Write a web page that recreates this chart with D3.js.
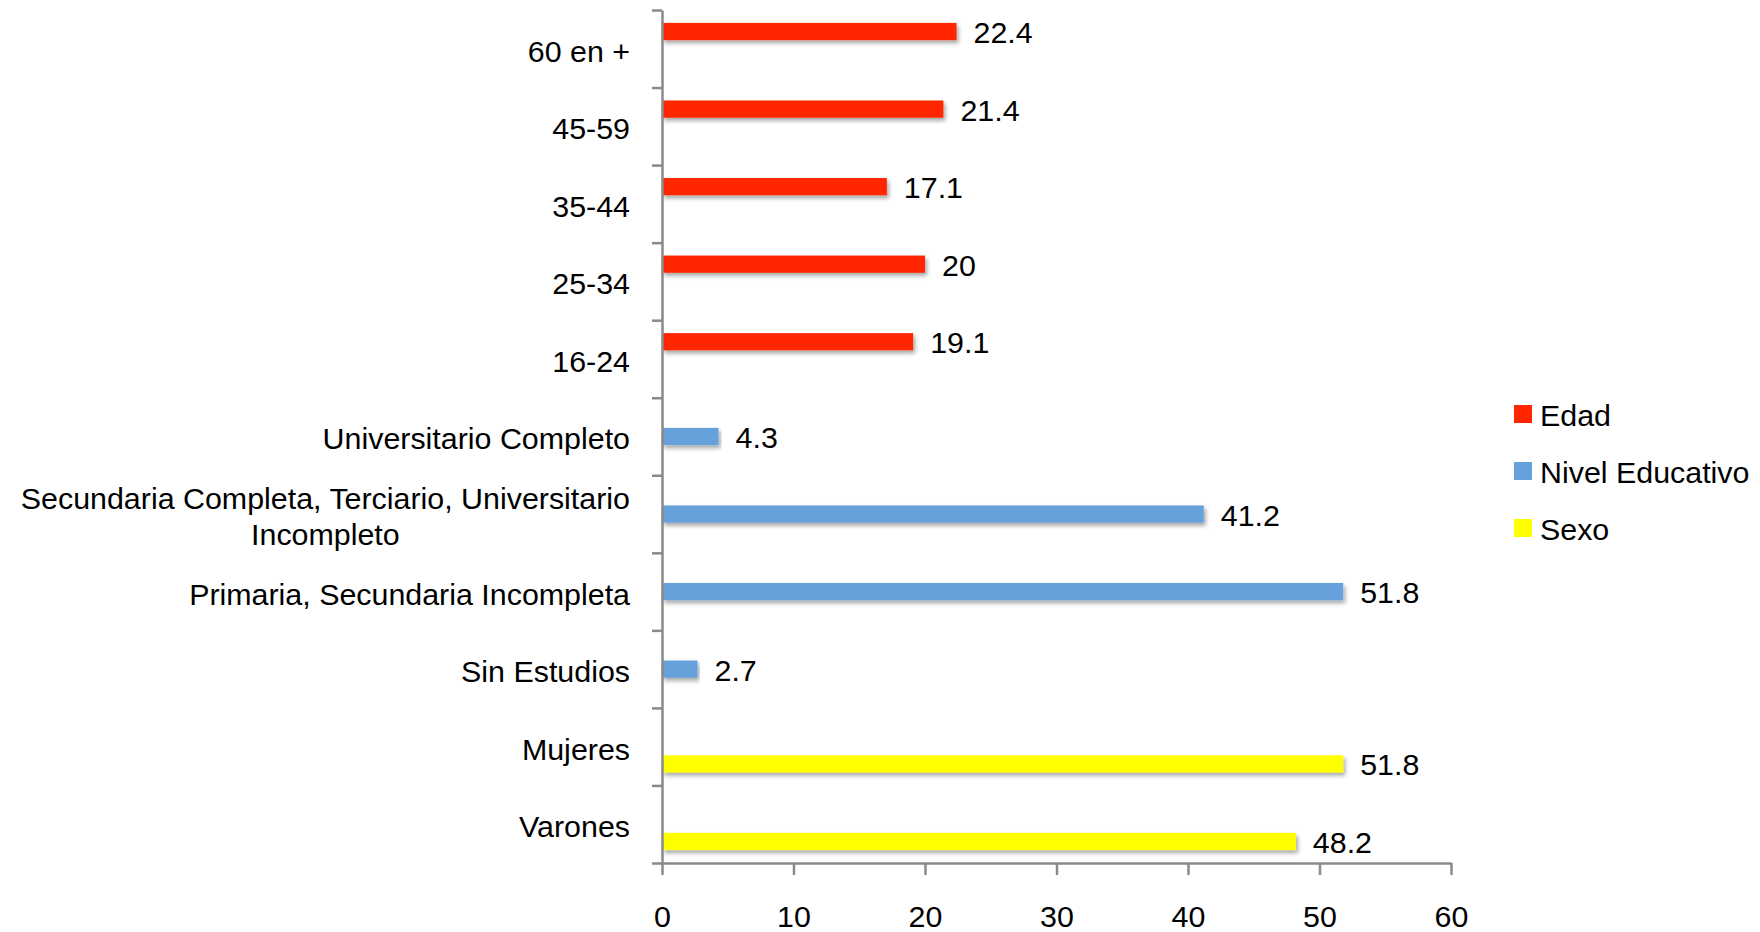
<!DOCTYPE html>
<html>
<head>
<meta charset="utf-8">
<script src="https://cdn.jsdelivr.net/npm/d3@7.9.0/dist/d3.min.js"></script>
<style>
  body { margin: 0; background: #fff; }
  text { font-family: "Liberation Sans", Arial, sans-serif; fill: #000; }
</style>
</head>
<body>
<svg id="chart" width="1760" height="932"></svg>
<script>
// categories, top to bottom
const categories = [
  "60 en +", "45-59", "35-44", "25-34", "16-24",
  "Universitario Completo",
  "Secundaria Completa, Terciario, Universitario Incompleto",
  "Primaria, Secundaria Incompleta",
  "Sin Estudios", "Mujeres", "Varones"
];
const seriesNames = ["Edad", "Nivel Educativo", "Sexo"];
const edad   = [22.4, 21.4, 17.1, 20, 19.1, null, null, null, null, null, null];
const nivel  = [null, null, null, null, null, 4.3, 41.2, 51.8, 2.7, null, null];
const sexo   = [null, null, null, null, null, null, null, null, null, 51.8, 48.2];
const xTicks = [0, 10, 20, 30, 40, 50, 60];
const colors = ["#ff2600", "#66a1dc", "#ffff00"];

// labels that wrap onto two lines
const labelLines = {
  "Secundaria Completa, Terciario, Universitario Incompleto":
    ["Secundaria Completa, Terciario, Universitario", "Incompleto"]
};

const fs = 30.4;
const svg = d3.select("#chart");
const plotLeft = 662, plotRight = 1451, plotTop = 10, plotBottom = 863;
const labelRight = 630;

const x = d3.scaleLinear().domain([0, 60]).range([plotLeft, plotRight]);
const y = d3.scaleBand().domain(categories).range([plotTop, plotBottom]).padding(0);
const ySub = d3.scaleBand().domain(seriesNames)
  .range([0, y.bandwidth()]).paddingInner(0).paddingOuter(0.75);
const color = d3.scaleOrdinal().domain(seriesNames).range(colors);

const rows = [];
[edad, nivel, sexo].forEach((vals, si) => {
  vals.forEach((v, i) => {
    if (v != null) rows.push({ cat: categories[i], series: seriesNames[si], value: v });
  });
});

// shadow under bars
const defs = svg.append("defs");
defs.append("filter").attr("id", "shadow")
  .attr("x", "-5%").attr("y", "-50%").attr("width", "110%").attr("height", "220%")
  .append("feDropShadow")
  .attr("dx", 2).attr("dy", 3).attr("stdDeviation", 2)
  .attr("flood-color", "#000").attr("flood-opacity", 0.35);

// bars
svg.append("g").selectAll("rect")
  .data(rows)
  .enter().append("rect")
  .attr("x", x(0))
  .attr("y", d => y(d.cat) + ySub(d.series))
  .attr("width", d => x(d.value) - x(0))
  .attr("height", ySub.bandwidth())
  .attr("fill", d => color(d.series))
  .attr("filter", "url(#shadow)");

// value labels
svg.append("g").selectAll("text")
  .data(rows)
  .enter().append("text")
  .attr("x", d => x(d.value) + 17)
  .attr("y", d => y(d.cat) + ySub(d.series) + ySub.bandwidth() / 2)
  .attr("dy", "0.38em")
  .attr("font-size", fs)
  .text(d => d.value);

// left axis: ticks at the category boundaries
const bound = d3.scaleLinear().domain([0, categories.length]).range([plotTop, plotBottom]);
const gl = svg.append("g").attr("transform", `translate(${plotLeft},0)`)
  .call(d3.axisLeft(bound).tickValues(d3.range(categories.length + 1))
    .tickFormat("").tickSize(10).tickSizeOuter(0));
gl.selectAll("path, line").attr("stroke", "#8a8a8a").attr("stroke-width", 2.5);

// category labels
const catG = svg.append("g").selectAll("text")
  .data(categories)
  .enter().append("text")
  .attr("font-size", fs)
  .attr("text-anchor", d => labelLines[d] ? "middle" : "end")
  .attr("y", d => y(d) + y.bandwidth() / 2 + 2);
catG.each(function (d) {
  const t = d3.select(this);
  if (labelLines[d]) {
    const lines = labelLines[d];
    const spans = lines.map((ln, i) => t.append("tspan")
      .attr("dy", i === 0 ? `${0.36 - 0.6}em` : "1.2em")
      .text(ln));
    const w = spans[0].node().getComputedTextLength();
    spans.forEach(s => s.attr("x", labelRight - w / 2));
  } else {
    t.attr("x", labelRight).attr("dy", "0.36em").text(d);
  }
});

// bottom axis
const gb = svg.append("g").attr("transform", `translate(0,${plotBottom})`)
  .call(d3.axisBottom(x).tickValues(xTicks).tickSize(12).tickPadding(30).tickSizeOuter(0));
gb.selectAll("path, line").attr("stroke", "#8a8a8a").attr("stroke-width", 2.5);
gb.selectAll("text").attr("font-size", fs)
  .style("font-family", '"Liberation Sans", Arial, sans-serif').attr("fill", "#000");

// legend
const legend = svg.append("g").selectAll("g")
  .data(seriesNames)
  .enter().append("g")
  .attr("transform", (d, i) => `translate(1514,${414 + i * 57})`);
legend.append("rect").attr("x", 0).attr("y", -9).attr("width", 18).attr("height", 18)
  .attr("fill", d => color(d));
legend.append("text").attr("x", 26).attr("dy", "0.38em").attr("font-size", fs).text(d => d);
</script>
</body>
</html>
